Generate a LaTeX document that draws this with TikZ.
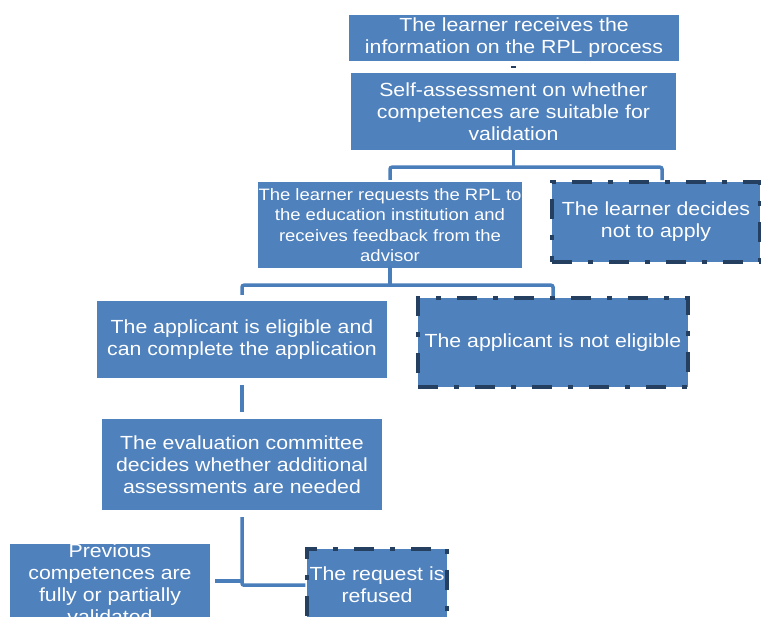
\documentclass[tikz,border=0pt]{standalone}
\usepackage{fontspec}
\setmainfont[FakeStretch=1.12]{Liberation Sans}
\usetikzlibrary{calc}
\definecolor{boxblue}{HTML}{4F81BD}
\definecolor{lineblue}{HTML}{4A7EBB}
\definecolor{navy}{HTML}{243F60}
\tikzset{
  box/.style={fill=boxblue, draw=none, text=white, align=center, inner sep=0pt,
              font=\fontsize{19}{22}\selectfont},
  dbox/.style={box, draw=navy, line width=3.5pt,
               dash pattern=on 20pt off 16pt on 5pt off 16pt},
  conn/.style={draw=lineblue, line width=3.5pt, rounded corners=2pt},
}
\begin{document}
\begin{tikzpicture}[x=1pt,y=-1pt]
\useasboundingbox (0,0) rectangle (761,617);
\clip (0,0) rectangle (761,617);
\node[box, minimum width=330pt, minimum height=46pt] (b1) at (514,38)
  {The learner receives the\\information on the RPL process};
\node[box, minimum width=325pt, minimum height=77pt] (b2) at (513.5,111.5)
  {Self-assessment on whether\\competences are suitable for\\validation};
\node[box, minimum width=264pt, minimum height=86pt, font=\fontsize{16.5}{20.5}\selectfont] (b3) at (390,225)
  {The learner requests the RPL to\\the education institution and\\receives feedback from the\\advisor};
\node[dbox, minimum width=208pt, minimum height=80pt] (b4) at (656,222)
  {The learner decides\\not to apply};
\node[box, minimum width=290pt, minimum height=77pt] (b5) at (242,339.5)
  {The applicant is eligible and\\can complete the application};
\node[dbox, minimum width=270pt, minimum height=89pt] (b6) at (553,342.5)
  {The applicant is not eligible};
\node[box, minimum width=280pt, minimum height=91pt] (b7) at (242,464.5)
  {The evaluation committee\\decides whether additional\\assessments are needed};
\node[box, minimum width=200pt, minimum height=80pt, text depth=0pt] (b8) at (110,584)
  {Previous\\competences are\\fully or partially\\validated};
\node[dbox, minimum width=140pt, minimum height=72pt] (b9) at (377,585)
  {The request is\\refused};
% connectors
\coordinate (d1) at ($(b1.south)+(0,6)$);
\draw[draw=navy, line width=2pt] ($(d1)+(-3,0)$) -- ($(d1)+(2,0)$);
\coordinate (j1) at ($(b2.south)+(0,17)$);
\draw[conn] (b2.south) -- (j1);
\draw[conn] ($(b3.north)+(0,-2)$) |- (j1) -| ($(b4.north)+(6,0)$);
\coordinate (j2) at ($(b3.south)+(0,17)$);
\draw[conn] ($(b3.south)+(0,-2)$) -- (j2);
\draw[conn] ($(b5.north)+(0,-6)$) |- (j2) -| (b6.north);
\draw[conn] ($(b5.south)+(0,7)$) -- ($(b7.north)+(0,-7)$);
\coordinate (j3) at ($(b7.south)+(0,75)$);
\draw[conn] ($(b7.south)+(0,7)$) -- (j3) -- (j3 -| b9.west);
\coordinate (j4) at ($(b7.south)+(0,71)$);
\draw[conn] (j4) -- ($(b8.east |- j4)+(5,0)$);
\end{tikzpicture}
\end{document}
